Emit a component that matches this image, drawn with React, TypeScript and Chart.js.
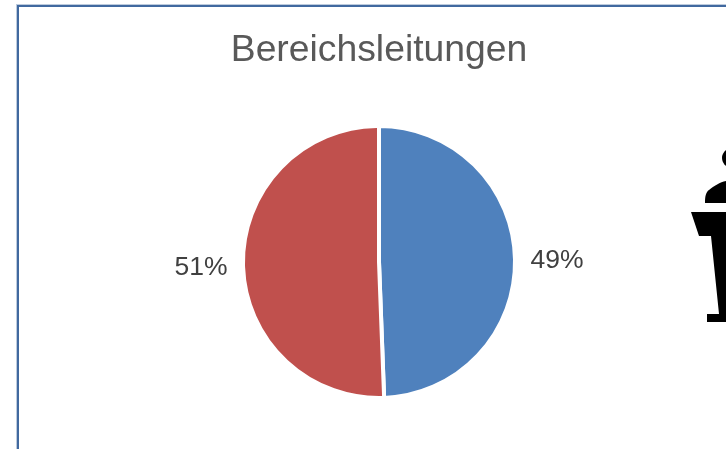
import React, { useEffect, useRef } from "react";
import { Chart, registerables } from "chart.js";

Chart.register(...registerables);

const categories = ["Frauen", "Männer"];
const values = [49.4, 50.6];
const colors = ["#4F81BD", "#C0504D"];
const titleText = "Bereichsleitungen";
const FONT = "'Liberation Sans', Arial, sans-serif";

const labelPlugin = {
  id: "outsideLabels",
  afterDatasetsDraw(chart: any) {
    const ctx = chart.ctx;
    const meta = chart.getDatasetMeta(0);
    ctx.save();
    ctx.font = `26.5px ${FONT}`;
    ctx.fillStyle = "#404040";
    ctx.textAlign = "center";
    ctx.textBaseline = "middle";
    meta.data.forEach((arc: any, i: number) => {
      const mid = (arc.startAngle + arc.endAngle) / 2;
      const r = arc.outerRadius + 42;
      ctx.fillText(`${Math.round(values[i])}%`, arc.x + Math.cos(mid) * r, arc.y + Math.sin(mid) * r + 2.5);
    });
    ctx.restore();
  },
};

export default function App() {
  const ref = useRef<HTMLCanvasElement>(null);
  useEffect(() => {
    const chart = new Chart(ref.current!, {
      type: "pie",
      data: {
        labels: categories,
        datasets: [{ data: values, backgroundColor: colors, borderColor: "#ffffff", borderWidth: 4 }],
      },
      options: {
        animation: false,
        responsive: false,
        layout: { padding: { top: 28, bottom: 49, left: 0, right: 0 } },
        plugins: {
          legend: { display: false },
          tooltip: { enabled: false },
          title: {
            display: true,
            text: titleText,
            color: "#595959",
            font: { family: FONT, size: 37.3, weight: "normal" },
            padding: { top: 0, bottom: 51.2 },
          },
        },
      },
      plugins: [labelPlugin],
    } as any);
    return () => chart.destroy();
  }, []);
  return (
    <div style={{ position: "fixed", left: 0, top: 0, width: 726, height: 449, overflow: "hidden", background: "#fff" }}>
      <div
        style={{
          position: "absolute",
          left: 17,
          top: 5,
          width: 800,
          height: 600,
          border: "2px solid #41699F",
          boxShadow: "0 0 0 1px rgba(65,105,159,0.35)",
          boxSizing: "border-box",
        }}
      />
      <canvas ref={ref} width={758} height={449} style={{ position: "absolute", left: 0, top: 0, display: "block" }} />
      <svg width={726} height={449} style={{ position: "absolute", left: 0, top: 0 }}>
        <ellipse cx={738} cy={158} rx={16} ry={12} fill="#000" />
        <path d="M705 203 C705 196 706 192 709 190 C714 186 720 182 726 181 L726 203 Z" fill="#000" />
        <path d="M691 212 L726 212 L726 322 L707 322 L707 314 L719 314 L711 236 L699 236 Z" fill="#000" />
      </svg>
    </div>
  );
}
